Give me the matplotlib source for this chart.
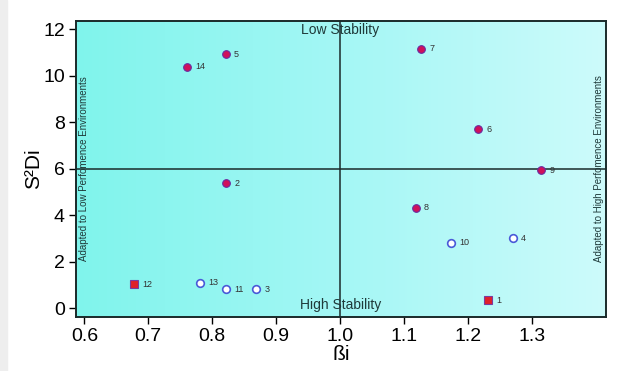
import numpy as np
import matplotlib
matplotlib.use("Agg")
import matplotlib.pyplot as plt
from matplotlib.colors import LinearSegmentedColormap

plt.rcParams['font.family'] = ['Liberation Sans', 'DejaVu Sans']

# genotype data: regression coefficient (bi) and deviation (S2Di)
labels = ['1', '2', '3', '4', '5', '6', '7', '8', '9', '10', '11', '12', '13', '14']
bi = [1.231, 0.822, 0.869, 1.270, 0.821, 1.216, 1.127, 1.118, 1.314, 1.173, 0.822, 0.678, 0.781, 0.760]
s2di = [0.34, 5.37, 0.82, 3.01, 10.92, 7.69, 11.16, 4.32, 5.93, 2.81, 0.82, 1.03, 1.10, 10.38]
# marker groups
kind = ['square', 'filled', 'open', 'open', 'filled', 'filled', 'filled', 'filled', 'filled',
        'open', 'open', 'square', 'open', 'filled']

xticks = [0.6, 0.7, 0.8, 0.9, 1.0, 1.1, 1.2, 1.3]
yticks = [0, 2, 4, 6, 8, 10, 12]

fig = plt.figure(figsize=(6.19, 3.71), dpi=100)
# grey strip at left edge of the source image
fig.patches.append(plt.Rectangle((0, 0), 0.011, 1, transform=fig.transFigure,
                                 color='#eeeeee', zorder=0))
ax = fig.add_axes([0.1228, 0.1464, 0.8562, 0.7978])

xlim = (0.587, 1.4156)
ylim = (-0.36, 12.36)
ax.set_xlim(xlim)
ax.set_ylim(ylim)

# cyan gradient background
cmap = LinearSegmentedColormap.from_list('bg', ['#80f4ec', '#a4f7f5', '#cdfbfb'])
grad = np.linspace(0, 1, 256).reshape(1, -1)
ax.imshow(grad, extent=[xlim[0], xlim[1], ylim[0], ylim[1]], aspect='auto',
          cmap=cmap, zorder=0)

ax.axvline(1.0, color='#1a2a2a', lw=1.1, zorder=1)
ax.axhline(6.0, color='#1a2a2a', lw=1.1, zorder=1)

for lab, x, y, k in zip(labels, bi, s2di, kind):
    if k == 'filled':
        ax.plot(x, y, 'o', ms=5.5, mfc='#d0105a', mec='#6a2aa0', mew=0.8, zorder=3)
    elif k == 'open':
        ax.plot(x, y, 'o', ms=5.5, mfc='white', mec='#4a5ad8', mew=1.2, zorder=3)
    else:
        ax.plot(x, y, 's', ms=5.5, mfc='#e0202a', mec='#7a3aa0', mew=0.8, zorder=3)
    ax.annotate(lab, (x, y), xytext=(6, 0), textcoords='offset points',
                fontsize=6.5, va='center', ha='left', color='#333333')

ax.text(1.0, 11.95, 'Low Stability', ha='center', va='center', fontsize=10, color='#1f3a3a')
ax.text(1.0, 0.15, 'High Stability', ha='center', va='center', fontsize=10, color='#1f3a3a')
ax.text(0.599, 6.0, 'Adapted to Low Perfomence Environments', rotation=90,
        ha='center', va='center', fontsize=7, color='#1f3a3a')
ax.text(1.404, 6.0, 'Adapted to High Perfomence Environments', rotation=90,
        ha='center', va='center', fontsize=7, color='#1f3a3a')

ax.set_xticks(xticks)
ax.set_xticklabels(['%.1f' % t for t in xticks])
ax.set_yticks(yticks)
ax.tick_params(labelsize=14, length=5, width=1, pad=3)
for s in ax.spines.values():
    s.set_linewidth(1.4)
    s.set_color('#1a2a2a')

ax.set_ylabel('S²Di', fontsize=15, labelpad=0)
ax.set_xlabel('ßi', fontsize=15, labelpad=0)

fig.savefig('out.png', dpi=100)
